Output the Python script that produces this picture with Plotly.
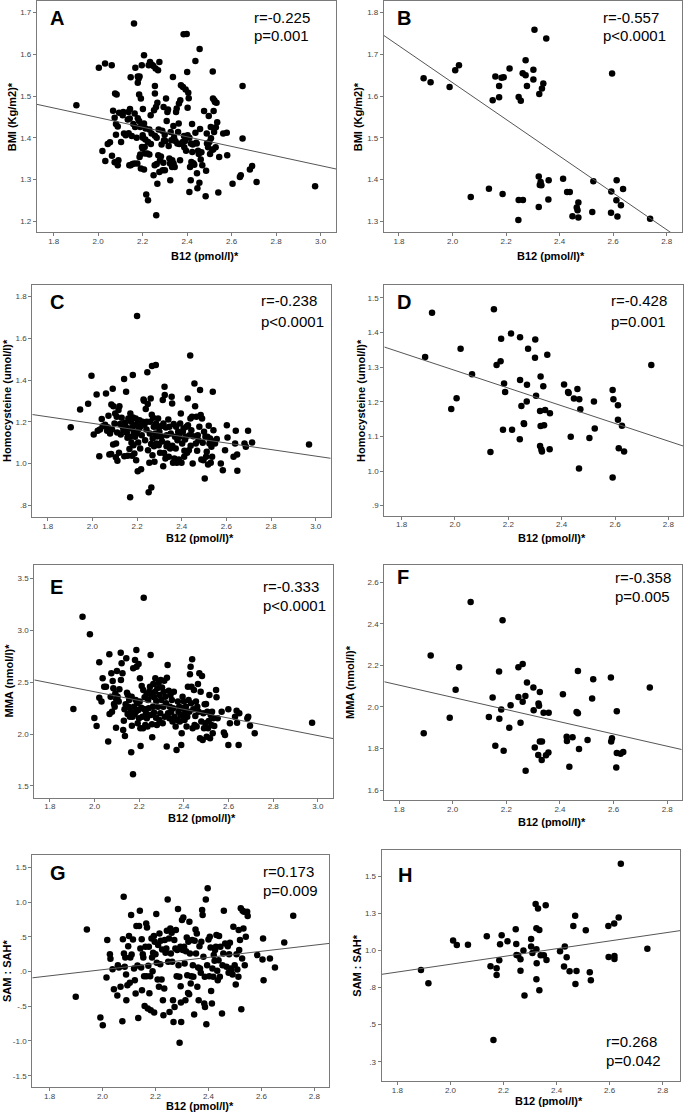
import plotly.graph_objects as go

W, H = 685, 1118

# ---------------- DATA ----------------
A_x = [1.902,2.003,2.031,2.061,2.019,2.032,2.043,2.053,2.062,2.067,2.074,2.074,2.080,2.080,2.076,2.083,2.088,2.091,2.088,2.094,
       2.103,2.110,2.113,2.116,2.124,2.136,2.133,2.137,2.142,2.143,2.140,2.146,2.146,2.151,2.154,2.158,2.161,2.163,2.164,2.167,
       2.166,2.173,2.176,2.178,2.178,2.178,2.182,2.184,2.186,2.184,2.186,2.189,2.189,2.192,2.196,2.192,2.197,2.200,2.200,2.201,
       2.201,2.206,2.206,2.206,2.209,2.210,2.212,2.213,2.216,2.221,2.224,2.224,2.227,2.230,2.230,2.233,2.236,2.237,2.240,2.242,
       2.248,2.249,2.251,2.254,2.255,2.255,2.255,2.258,2.260,2.261,2.263,2.263,2.266,2.266,2.269,2.270,2.272,2.275,2.275,2.278,
       2.282,2.285,2.288,2.290,2.293,2.294,2.296,2.299,2.300,2.302,2.305,2.308,2.311,2.314,2.317,2.320,2.323,2.324,2.326,2.329,
       2.332,2.333,2.336,2.338,2.339,2.341,2.344,2.347,2.350,2.353,2.356,2.359,2.362,2.363,2.365,2.368,2.369,2.372,2.377,2.380,
       2.381,2.384,2.386,2.387,2.390,2.393,2.395,2.398,2.400,2.402,2.402,2.405,2.407,2.410,2.410,2.413,2.416,2.417,2.419,2.422,
       2.423,2.425,2.428,2.432,2.437,2.437,2.440,2.443,2.444,2.446,2.449,2.452,2.455,2.456,2.458,2.461,2.464,2.468,2.476,2.483,
       2.485,2.488,2.489,2.494,2.497,2.500,2.503,2.506,2.507,2.512,2.515,2.516,2.517,2.519,2.521,2.522,2.525,2.528,2.529,2.532,
       2.535,2.540,2.544,2.562,2.578,2.580,2.604,2.637,2.641,2.649,2.649,2.682,2.692,2.712,2.975]
A_y = [1.478,1.568,1.578,1.574,1.368,1.344,1.385,1.389,1.357,1.465,1.448,1.341,1.433,1.407,1.506,1.504,1.427,1.346,1.334,1.460,
       1.390,1.454,1.462,1.410,1.406,1.462,1.444,1.411,1.446,1.469,1.334,1.545,1.334,1.404,1.337,1.433,1.674,1.338,1.458,1.568,
       1.426,1.400,1.338,1.447,1.547,1.532,1.542,1.504,1.547,1.440,1.354,1.360,1.426,1.494,1.574,1.326,1.378,1.406,1.374,1.400,
       1.469,1.598,1.434,1.324,1.378,1.362,1.396,1.422,1.264,1.362,1.250,1.390,1.574,1.420,1.360,1.582,1.454,1.385,1.410,1.575,
       1.572,1.310,1.466,1.334,1.405,1.524,1.506,1.566,1.474,1.214,1.337,1.400,1.290,1.484,1.562,1.358,1.420,1.582,1.318,1.346,
       1.355,1.384,1.417,1.322,1.340,1.474,1.394,1.407,1.322,1.392,1.494,1.440,1.462,1.468,1.380,1.350,1.338,1.298,1.414,1.394,
       1.330,1.346,1.546,1.428,1.338,1.401,1.330,1.392,1.462,1.470,1.386,1.414,1.434,1.482,1.385,1.346,1.490,1.526,1.386,1.390,
       1.522,1.648,1.404,1.377,1.392,1.516,1.369,1.649,1.558,1.472,1.406,1.508,1.495,1.270,1.400,1.330,1.298,1.386,1.342,1.433,
       1.366,1.384,1.339,1.335,1.584,1.412,1.388,1.386,1.315,1.279,1.369,1.361,1.292,1.613,1.421,1.348,1.365,1.334,1.464,1.260,
       1.321,1.410,1.386,1.377,1.452,1.390,1.361,1.426,1.399,1.371,1.559,1.494,1.372,1.464,1.414,1.490,1.486,1.377,1.425,1.484,
       1.437,1.269,1.354,1.410,1.412,1.358,1.290,1.306,1.310,1.524,1.398,1.324,1.332,1.294,1.284]

B_x = [1.892,1.918,1.989,2.010,2.024,2.068,2.136,2.150,2.160,2.174,2.174,2.183,2.191,2.187,2.213,2.246,2.247,2.247,2.255,2.262,
       2.263,2.273,2.273,2.278,2.302,2.302,2.306,2.322,2.322,2.324,2.326,2.329,2.332,2.334,2.339,2.350,2.359,2.358,2.413,2.428,
       2.438,2.448,2.464,2.467,2.470,2.470,2.522,2.526,2.592,2.593,2.596,2.613,2.612,2.616,2.629,2.637,2.738]
B_y = [1.643,1.633,1.622,1.662,1.674,1.358,1.378,1.590,1.647,1.624,1.597,1.644,1.645,1.365,1.666,1.303,1.598,1.351,1.589,1.655,
       1.351,1.686,1.650,1.624,1.663,1.640,1.759,1.407,1.334,1.605,1.387,1.394,1.386,1.618,1.630,1.738,1.398,1.352,1.402,1.370,
       1.370,1.312,1.333,1.326,1.345,1.309,1.322,1.396,1.320,1.371,1.654,1.398,1.350,1.311,1.338,1.377,1.306]

C_x = [1.903,1.945,1.981,1.996,2.006,2.019,2.024,2.031,2.034,2.042,2.046,2.057,2.061,2.066,2.069,2.072,2.076,2.079,2.084,2.085,
       2.088,2.091,2.093,2.094,2.099,2.102,2.105,2.106,2.109,2.111,2.112,2.117,2.119,2.121,2.124,2.127,2.131,2.136,2.139,2.142,
       2.143,2.146,2.149,2.151,2.154,2.157,2.158,2.161,2.163,2.166,2.169,2.170,2.172,2.173,2.175,2.178,2.179,2.181,2.182,2.184,
       2.185,2.188,2.190,2.191,2.194,2.196,2.199,2.200,2.202,2.203,2.205,2.208,2.211,2.214,2.215,2.218,2.221,2.225,2.229,2.231,
       2.233,2.236,2.239,2.242,2.243,2.246,2.248,2.249,2.252,2.255,2.257,2.258,2.261,2.263,2.264,2.266,2.267,2.269,2.270,2.272,
       2.275,2.276,2.278,2.281,2.284,2.285,2.288,2.290,2.291,2.294,2.297,2.300,2.303,2.306,2.309,2.312,2.315,2.317,2.318,2.321,
       2.323,2.324,2.327,2.329,2.332,2.333,2.336,2.340,2.342,2.345,2.348,2.351,2.355,2.357,2.358,2.361,2.364,2.367,2.370,2.373,
       2.375,2.378,2.381,2.384,2.387,2.388,2.390,2.393,2.396,2.399,2.402,2.405,2.408,2.411,2.412,2.415,2.418,2.421,2.424,2.427,
       2.428,2.432,2.435,2.438,2.439,2.440,2.443,2.446,2.449,2.452,2.457,2.460,2.463,2.466,2.469,2.472,2.475,2.479,2.482,2.485,
       2.488,2.491,2.494,2.497,2.500,2.503,2.506,2.509,2.512,2.515,2.518,2.521,2.524,2.527,2.530,2.533,2.536,2.539,2.542,2.545,
       2.549,2.557,2.575,2.584,2.594,2.602,2.605,2.632,2.639,2.642,2.648,2.649,2.681,2.687,2.697,2.715,2.970]
C_y = [1.174,1.259,1.286,1.421,1.139,1.331,1.157,1.035,1.163,1.213,1.179,1.186,1.336,1.157,1.174,1.229,1.043,1.144,1.045,1.283,
       1.163,1.358,1.091,1.275,1.192,1.240,1.030,1.096,1.224,1.149,1.013,1.256,1.051,1.275,1.189,1.139,1.219,1.176,1.160,1.405,
       1.035,1.195,1.176,1.344,1.147,1.123,1.037,1.216,1.168,1.069,0.838,1.240,1.128,1.200,1.099,1.037,1.173,1.424,1.221,1.088,
       1.152,1.048,1.184,1.128,1.216,1.016,1.144,1.707,1.192,0.963,1.101,1.165,1.208,1.072,1.176,0.973,1.136,1.200,1.307,1.301,
       1.186,1.112,1.261,1.163,1.200,1.437,1.285,1.064,0.862,1.003,1.144,1.200,1.312,1.093,0.885,1.234,1.467,1.040,1.120,1.219,
       1.176,1.083,1.008,1.144,1.472,1.192,1.096,1.130,1.176,1.216,1.088,1.152,1.051,1.179,1.128,1.106,1.304,0.987,1.192,1.050,
       1.368,1.328,1.024,1.173,1.083,1.136,1.096,1.211,1.032,1.176,1.072,1.144,1.320,1.288,1.085,1.003,1.189,1.024,1.128,1.072,
       1.176,1.003,1.112,1.152,1.019,1.141,1.128,1.192,1.240,1.003,1.096,1.152,1.168,1.032,1.061,1.115,1.128,1.176,1.051,1.312,
       1.184,1.064,1.136,1.518,1.216,1.085,1.160,1.224,1.000,1.131,1.384,1.275,1.096,1.224,1.061,1.136,1.112,1.176,1.352,1.232,
       1.019,1.216,1.099,1.016,1.152,0.928,1.128,1.032,1.056,1.128,0.995,1.181,1.096,1.120,1.003,1.080,1.032,1.344,1.160,1.107,
       1.096,1.117,1.000,0.968,1.064,1.184,1.125,1.032,1.096,1.157,1.043,0.965,1.096,1.080,1.157,1.101,1.091]

D_x = [1.888,1.914,1.986,2.006,2.021,2.064,2.133,2.146,2.156,2.171,2.173,2.180,2.184,2.188,2.210,2.214,2.243,2.244,2.244,2.249,
       2.258,2.259,2.269,2.270,2.274,2.300,2.301,2.304,2.319,2.319,2.321,2.321,2.324,2.326,2.331,2.334,2.338,2.346,2.356,2.355,
       2.409,2.424,2.426,2.434,2.446,2.459,2.466,2.465,2.470,2.504,2.521,2.524,2.591,2.591,2.594,2.611,2.611,2.614,2.626,2.634,2.736]
D_y = [1.329,1.457,1.179,1.210,1.353,1.279,1.055,1.467,1.306,1.317,1.382,1.119,1.253,1.228,1.397,1.119,1.092,1.386,1.263,1.188,
       1.138,1.136,1.201,1.249,1.353,1.327,1.380,1.217,1.173,1.072,1.273,1.130,1.062,1.056,1.245,1.132,1.176,1.336,1.167,1.063,
       1.250,1.228,1.225,1.099,1.209,1.237,1.207,1.007,1.178,1.095,1.201,1.123,1.234,0.981,1.207,1.190,1.148,1.066,1.131,1.056,1.306]

E_x = [1.905,1.946,1.979,1.999,2.009,2.021,2.021,2.031,2.036,2.043,2.051,2.061,2.066,2.067,2.072,2.075,2.078,2.081,2.084,2.087,
       2.090,2.093,2.096,2.097,2.100,2.103,2.108,2.111,2.117,2.118,2.121,2.125,2.128,2.131,2.134,2.136,2.139,2.142,2.145,2.148,
       2.149,2.152,2.155,2.158,2.161,2.164,2.166,2.167,2.170,2.172,2.173,2.176,2.179,2.181,2.184,2.185,2.187,2.188,2.191,2.193,
       2.196,2.197,2.199,2.202,2.203,2.205,2.206,2.209,2.211,2.214,2.217,2.218,2.220,2.221,2.224,2.227,2.230,2.233,2.234,2.237,
       2.240,2.242,2.245,2.248,2.251,2.252,2.255,2.257,2.258,2.261,2.263,2.266,2.267,2.270,2.272,2.275,2.276,2.279,2.281,2.284,
       2.287,2.290,2.291,2.294,2.296,2.299,2.302,2.305,2.308,2.309,2.312,2.314,2.317,2.320,2.323,2.324,2.327,2.329,2.332,2.335,
       2.337,2.340,2.343,2.346,2.349,2.352,2.355,2.358,2.363,2.367,2.370,2.373,2.376,2.379,2.382,2.385,2.388,2.390,2.393,2.394,
       2.397,2.400,2.403,2.406,2.409,2.412,2.415,2.418,2.421,2.424,2.427,2.430,2.432,2.434,2.437,2.439,2.442,2.445,2.448,2.451,
       2.454,2.457,2.460,2.463,2.466,2.469,2.472,2.475,2.478,2.481,2.484,2.487,2.490,2.493,2.496,2.499,2.502,2.505,2.508,2.511,
       2.514,2.517,2.520,2.523,2.526,2.529,2.532,2.536,2.544,2.546,2.551,2.569,2.579,2.584,2.599,2.599,2.606,2.629,2.636,2.638,
       2.645,2.648,2.684,2.688,2.696,2.717,2.974]
E_y = [2.243,3.133,2.963,2.156,2.079,2.693,2.352,2.314,2.539,2.458,2.458,1.928,2.770,2.195,2.362,2.587,2.217,2.513,2.442,2.291,
       2.265,2.394,2.063,2.336,2.609,2.362,2.314,2.433,2.786,2.523,2.683,2.587,2.040,2.130,2.240,1.983,2.288,2.732,2.400,2.195,
       2.378,2.265,2.330,2.169,2.217,1.825,2.362,2.082,2.169,1.613,2.635,2.265,2.192,2.716,2.330,2.217,2.812,2.651,2.298,2.105,
       2.233,2.677,2.153,2.314,2.539,2.056,1.886,2.256,2.465,2.169,2.056,2.426,3.317,2.243,2.355,2.089,2.201,2.388,2.153,2.073,
       2.330,2.249,2.410,2.458,2.764,2.185,2.368,2.095,1.970,2.265,2.484,2.208,2.355,2.410,2.539,2.159,2.320,2.089,2.442,2.265,
       2.497,2.137,2.378,2.201,2.523,2.330,2.449,2.105,2.265,2.410,2.516,2.169,2.362,2.298,1.880,2.545,2.667,2.201,2.420,2.153,
       2.265,2.378,2.217,2.330,2.121,2.249,2.410,2.169,2.073,1.847,2.137,2.314,2.217,2.265,2.121,2.185,1.896,2.008,2.249,2.362,
       2.169,2.314,2.137,2.217,2.265,2.073,2.169,2.458,2.330,2.217,2.577,2.651,2.298,2.458,2.722,2.056,2.240,2.426,2.089,2.175,
       2.314,2.073,2.265,2.484,2.217,2.587,1.960,2.410,2.121,2.561,1.944,2.201,2.056,2.288,2.105,2.291,1.976,2.217,2.056,2.127,
       2.378,1.960,2.185,2.089,2.217,2.008,2.153,2.079,2.426,2.355,2.153,2.217,2.015,1.992,2.240,1.896,2.105,2.169,2.227,2.111,
       1.896,2.201,2.153,2.169,2.082,2.008,2.111]

F_x = [1.892,1.918,1.989,2.011,2.024,2.067,2.135,2.149,2.159,2.173,2.174,2.181,2.186,2.190,2.211,2.216,2.245,2.245,2.253,2.261,
       2.261,2.271,2.272,2.277,2.301,2.302,2.306,2.319,2.320,2.322,2.325,2.325,2.333,2.332,2.339,2.348,2.357,2.358,2.411,2.425,
       2.426,2.435,2.447,2.462,2.467,2.467,2.471,2.503,2.520,2.524,2.590,2.591,2.594,2.610,2.612,2.612,2.626,2.636,2.735]
F_y = [1.873,2.248,1.948,2.083,2.191,2.505,1.952,2.045,1.813,2.170,1.943,1.988,2.417,1.789,1.900,2.008,2.191,2.048,1.924,2.207,
       2.025,2.053,1.693,2.117,2.093,1.984,1.805,1.769,2.016,2.006,2.072,1.833,1.833,1.744,1.972,1.767,1.781,1.972,2.061,1.857,
       1.836,1.712,1.854,1.976,1.969,2.173,1.797,1.841,2.040,2.133,2.141,1.833,1.849,1.709,1.979,1.778,1.775,1.783,2.094]

G_x = [1.899,1.941,1.992,2.001,2.015,2.018,2.028,2.030,2.038,2.043,2.056,2.058,2.062,2.068,2.075,2.077,2.080,2.081,2.084,2.086,
       2.089,2.090,2.094,2.097,2.100,2.103,2.105,2.108,2.110,2.115,2.119,2.122,2.125,2.128,2.132,2.135,2.138,2.141,2.143,2.146,
       2.148,2.149,2.152,2.154,2.157,2.159,2.162,2.165,2.166,2.168,2.171,2.173,2.175,2.177,2.180,2.182,2.185,2.187,2.189,2.191,
       2.194,2.195,2.197,2.200,2.203,2.205,2.208,2.210,2.213,2.215,2.218,2.220,2.223,2.225,2.228,2.230,2.233,2.235,2.238,2.241,
       2.243,2.246,2.248,2.251,2.253,2.256,2.258,2.261,2.263,2.266,2.268,2.271,2.272,2.275,2.277,2.280,2.282,2.285,2.287,2.290,
       2.291,2.294,2.295,2.296,2.297,2.300,2.303,2.305,2.308,2.310,2.313,2.315,2.318,2.320,2.323,2.324,2.327,2.328,2.330,2.333,
       2.335,2.338,2.341,2.343,2.346,2.348,2.351,2.353,2.356,2.358,2.361,2.363,2.366,2.368,2.371,2.373,2.376,2.378,2.381,2.384,
       2.386,2.387,2.390,2.392,2.395,2.397,2.400,2.403,2.405,2.408,2.410,2.413,2.415,2.418,2.420,2.423,2.425,2.428,2.430,2.433,
       2.435,2.438,2.440,2.443,2.445,2.451,2.453,2.456,2.458,2.463,2.468,2.473,2.476,2.478,2.481,2.484,2.486,2.491,2.494,2.499,
       2.503,2.506,2.509,2.513,2.514,2.516,2.519,2.522,2.524,2.527,2.529,2.532,2.534,2.537,2.541,2.546,2.548,2.584,2.604,2.606,
       2.608,2.632,2.651,2.686,2.720]
G_y = [-0.365,0.606,-0.663,-0.774,-0.087,0.452,0.250,0.183,0.034,-0.255,-0.346,0.091,0.058,-0.221,-0.716,0.466,1.077,0.260,0.067,0.202,
       -0.043,-0.413,-0.197,0.365,0.510,-0.163,0.202,0.813,0.245,0.462,0.043,-0.125,-0.317,0.654,0.087,-0.668,0.654,0.875,0.332,0.058,
       0.466,-0.269,0.250,0.202,-0.067,-0.495,0.356,0.692,-0.067,0.635,-0.534,0.082,0.356,-0.313,-0.067,-0.558,0.476,0.202,0.005,0.269,
       0.510,-0.591,0.428,0.250,0.827,0.125,-0.115,0.380,-0.221,0.548,0.106,0.442,-0.115,0.317,-0.413,-0.630,-0.245,0.452,0.269,0.332,
       0.587,1.038,0.139,0.476,-0.582,0.620,0.260,0.558,0.139,-0.413,-0.726,0.452,-0.510,0.332,0.596,-0.067,0.308,0.899,0.091,-0.077,
       -1.024,0.356,-0.212,-0.447,-0.726,0.740,0.308,0.779,0.356,0.115,-0.413,0.293,0.490,-0.053,-0.308,0.428,-0.327,0.716,0.260,-0.173,
       -0.067,0.452,0.091,-0.077,-0.620,0.442,0.606,0.260,0.548,-0.221,0.058,-0.413,0.365,0.043,-0.019,0.428,0.885,0.813,0.212,-0.462,
       -0.077,-0.510,1.038,-0.760,0.091,1.197,0.462,-0.067,0.500,0.346,-0.279,-0.462,0.043,-0.077,0.236,0.154,0.308,0.356,0.524,0.010,
       -0.125,0.163,0.510,-0.077,0.356,-0.606,0.091,0.260,0.875,0.404,0.067,0.365,-0.019,0.250,0.413,0.043,0.010,-0.043,0.644,0.091,
       -0.188,0.250,0.029,-0.077,0.596,0.308,0.452,0.909,-0.543,0.188,0.875,0.620,0.861,0.091,0.500,0.861,0.798,0.236,0.173,0.476,
       -0.125,0.188,0.058,0.418,0.803]

H_x = [1.889,1.917,2.010,2.024,2.066,2.137,2.151,2.162,2.174,2.174,2.184,2.187,2.193,2.215,2.246,2.248,2.249,2.255,2.264,2.264,
       2.275,2.279,2.304,2.304,2.309,2.321,2.324,2.324,2.325,2.324,2.330,2.335,2.335,2.340,2.352,2.359,2.362,2.413,2.428,2.431,
       2.438,2.449,2.463,2.470,2.475,2.471,2.510,2.525,2.529,2.595,2.596,2.617,2.618,2.618,2.634,2.642,2.742]
H_y = [0.868,0.778,1.065,1.036,1.038,1.094,0.892,0.396,0.879,0.834,0.933,1.040,1.101,1.061,1.141,1.043,0.969,0.964,0.939,0.863,
       0.998,0.695,1.076,1.025,0.982,1.312,1.148,1.007,0.912,0.805,1.281,1.137,0.731,0.966,0.966,1.303,0.935,0.993,0.890,1.025,
       0.953,0.859,1.164,1.233,0.861,0.773,1.135,0.852,0.798,1.164,0.955,1.180,0.962,0.942,1.220,1.583,1.011]

panel_letters = ["A", "B", "C", "D", "E", "F", "G", "H"]
y_titles = ["BMI (Kg/m2)*", "BMI (Kg/m2)*", "Homocysteine (umol/l)*", "Homocysteine (umol/l)*",
            "MMA (nmol/l)*", "MMA (nmol/l)*", "SAM : SAH*", "SAM : SAH*"]
x_title = "B12 (pmol/l)*"
r_texts = ["r=-0.225", "r=-0.557", "r=-0.238", "r=-0.428", "r=-0.333", "r=-0.358", "r=0.173", "r=0.268"]
p_texts = ["p=0.001", "p<0.0001", "p<0.0001", "p=0.001", "p<0.0001", "p=0.005", "p=0.009", "p=0.042"]
# fitted regression lines (slope, intercept) as drawn in each panel
fit_slope = [-0.1153, -0.4409, -0.1572, -0.2551, -0.4227, -0.294, 0.442, 0.2616]
fit_intercept = [1.679, 2.514, 1.507, 1.8006, 3.2543, 2.634, -0.858, 0.3826]

x_ticks_wide = [1.8, 2.0, 2.2, 2.4, 2.6, 2.8, 3.0]
x_ticks_narrow = [1.8, 2.0, 2.2, 2.4, 2.6, 2.8]
y_ticks = [
    [1.2, 1.3, 1.4, 1.5, 1.6, 1.7],
    [1.3, 1.4, 1.5, 1.6, 1.7, 1.8],
    [0.8, 1.0, 1.2, 1.4, 1.6, 1.8],
    [0.9, 1.0, 1.1, 1.2, 1.3, 1.4, 1.5],
    [1.5, 2.0, 2.5, 3.0, 3.5],
    [1.6, 1.8, 2.0, 2.2, 2.4, 2.6],
    [-1.5, -1.0, -0.5, 0.0, 0.5, 1.0, 1.5],
    [0.25, 0.5, 0.75, 1.0, 1.25, 1.5],
]
y_tick_labels = [
    ["1.2", "1.3", "1.4", "1.5", "1.6", "1.7"],
    ["1.3", "1.4", "1.5", "1.6", "1.7", "1.8"],
    [".8", "1.0", "1.2", "1.4", "1.6", "1.8"],
    [".9", "1.0", "1.1", "1.2", "1.3", "1.4", "1.5"],
    ["1.5", "2.0", "2.5", "3.0", "3.5"],
    ["1.6", "1.8", "2.0", "2.2", "2.4", "2.6"],
    ["-1.5", "-1.0", "-.5", ".0", ".5", "1.0", "1.5"],
    [".3", ".5", ".8", "1.0", "1.3", "1.5"],
]

series = [(A_x, A_y), (B_x, B_y), (C_x, C_y), (D_x, D_y), (E_x, E_y), (F_x, F_y), (G_x, G_y), (H_x, H_y)]

# ---------------- LAYOUT (pixel geometry) ----------------
frames = [(37, 336, 1, 232), (384, 681.7, 1, 232),
          (32.3, 330.7, 285, 517.3), (384.3, 683.3, 285, 515.7),
          (34.3, 333.3, 565, 797.7), (384.3, 681.7, 565, 800),
          (32.3, 329, 855, 1087.3), (381.7, 680, 850, 1081)]
x_ranges = [(1.725, 3.069), (1.744, 2.856), (1.731, 3.067), (1.735, 2.856),
            (1.730, 3.069), (1.745, 2.854), (1.735, 2.855), (1.741, 2.865)]
y_ranges = [(1.174, 1.728), (1.274, 1.828), (0.742, 1.856), (0.871, 1.537),
            (1.387, 3.632), (1.552, 2.683), (-1.667, 1.677), (0.12, 1.675)]
letter_pos = [(48.3, 18.3), (395, 18.3), (47.7, 301.7), (395, 301.7),
              (48.3, 586.7), (395, 576.7), (47.7, 873.3), (395.7, 875)]
r_pos = [(252.3, 17), (601, 17), (259, 301), (609.3, 301),
         (261, 586.7), (612.7, 577.7), (261, 871.7), (604.3, 1041.7)]
p_dy = [18, 19, 20.7, 20.7, 18.3, 19, 18.3, 19]
ytitle_pos = [(12.3, 117), (358.3, 117), (7, 401), (361, 400),
              (8.5, 681), (350, 682), (7, 971), (356.7, 966)]
xtitle_pos = [(205, 256), (551, 256), (200, 537.5), (552, 537.5),
              (201.7, 817.5), (552, 821.5), (200, 1106), (549, 1101)]


def px(x):
    return x / W


def py(y):
    return 1 - y / H


FONT = "Liberation Sans, Arial, sans-serif"
FRAME = "#7a7a7a"

fig = go.Figure()
annotations = []
layout_axes = {}

for i in range(8):
    n = "" if i == 0 else str(i + 1)
    xa, ya = "x" + n, "y" + n
    xs, ys = series[i]
    l, r, t, b = frames[i]
    x0, x1 = x_ranges[i]

    fig.add_trace(go.Scatter(x=xs, y=ys, mode="markers", xaxis=xa, yaxis=ya,
                             marker=dict(color="black", size=6.5, line=dict(width=0)),
                             hoverinfo="skip"))
    fig.add_trace(go.Scatter(x=[x0, x1],
                             y=[fit_intercept[i] + fit_slope[i] * x0, fit_intercept[i] + fit_slope[i] * x1],
                             mode="lines", xaxis=xa, yaxis=ya,
                             line=dict(color="#555555", width=1), hoverinfo="skip"))

    wide = x1 > 3.0
    xt = x_ticks_wide if wide else x_ticks_narrow
    common = dict(showline=True, mirror=True, linecolor=FRAME, linewidth=1.2,
                  ticks="outside", ticklen=3, tickwidth=1, tickcolor=FRAME,
                  showgrid=False, zeroline=False,
                  tickfont=dict(family=FONT, size=8, color="#444444"))
    layout_axes["xaxis" + n] = dict(common, domain=[px(l), px(r)], range=[x0, x1], anchor=ya,
                                    tickvals=xt, ticktext=[f"{v:.1f}" for v in xt],
                                    ticklabelstandoff=-2)
    layout_axes["yaxis" + n] = dict(common, domain=[py(b), py(t)], range=list(y_ranges[i]), anchor=xa,
                                    tickvals=y_ticks[i], ticktext=y_tick_labels[i])

    lx, ly = letter_pos[i]
    annotations.append(dict(text="<b>" + panel_letters[i] + "</b>", x=px(lx), y=py(ly), xref="paper", yref="paper",
                            xanchor="left", yanchor="middle", showarrow=False,
                            font=dict(family=FONT, size=20, color="black")))
    rx, ry = r_pos[i]
    annotations.append(dict(text=r_texts[i], x=px(rx), y=py(ry), xref="paper", yref="paper",
                            xanchor="left", yanchor="middle", showarrow=False,
                            font=dict(family=FONT, size=15, color="black")))
    annotations.append(dict(text=p_texts[i], x=px(rx), y=py(ry + p_dy[i]), xref="paper", yref="paper",
                            xanchor="left", yanchor="middle", showarrow=False,
                            font=dict(family=FONT, size=15, color="black")))
    tx, ty = ytitle_pos[i]
    annotations.append(dict(text="<b>" + y_titles[i] + "</b>", x=px(tx), y=py(ty), xref="paper", yref="paper",
                            xanchor="center", yanchor="middle", textangle=-90, showarrow=False,
                            font=dict(family=FONT, size=11, color="black")))
    xx, xy = xtitle_pos[i]
    annotations.append(dict(text="<b>" + x_title + "</b>", x=px(xx), y=py(xy), xref="paper", yref="paper",
                            xanchor="center", yanchor="middle", showarrow=False,
                            font=dict(family=FONT, size=11, color="black")))

fig.update_layout(width=W, height=H, margin=dict(l=0, r=0, t=0, b=0),
                  paper_bgcolor="white", plot_bgcolor="white", showlegend=False,
                  annotations=annotations, **layout_axes)

fig.write_html("out.html", config={"displayModeBar": False},
               post_script="document.body.style.margin='0';document.body.style.overflow='hidden';")
